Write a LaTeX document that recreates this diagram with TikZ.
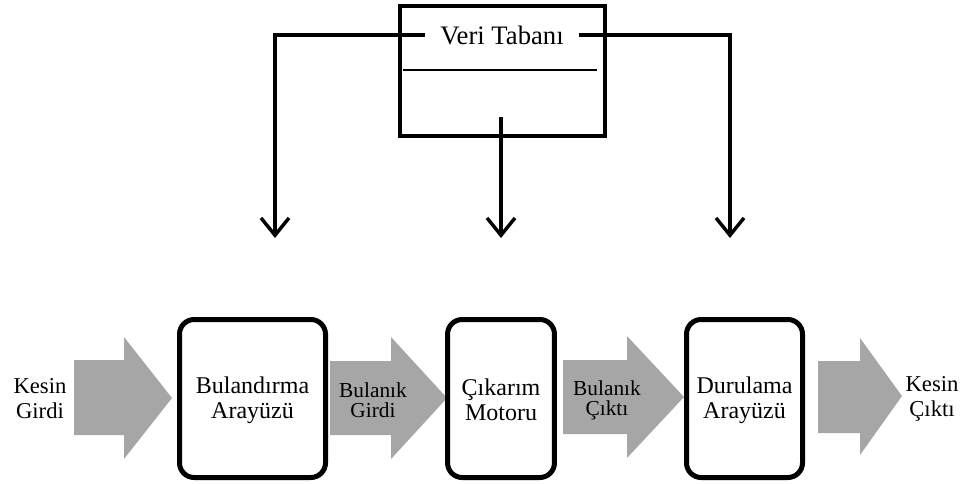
\documentclass[tikz,border=0pt]{standalone}
\usepackage{fontspec}
\setmainfont{Liberation Serif}
\usetikzlibrary{arrows.meta}
\definecolor{flowgray}{RGB}{166,166,166}
\tikzset{
  unitbox/.style={draw=black, line width=3.75pt, rounded corners=11pt, fill=white,
    minimum height=118.5pt, align=center, inner sep=0pt,
    font=\fontsize{18}{18.75}\selectfont},
  dbbox/.style={draw=black, line width=3.6pt, minimum width=153.75pt,
    minimum height=97.5pt, inner sep=0pt},
  dblabel/.style={inner xsep=11pt, inner ysep=2pt, font=\fontsize{20}{22}\selectfont},
  feed/.style={line width=2.6pt, -{Straight Barb[length=13pt, width=21pt, line width=2.6pt]}},
  flow/.style={fill=flowgray, draw=none},
  sidelabel/.style={align=center, inner sep=0pt, font=\fontsize{17}{18.75}\selectfont},
  flowlabel/.style={align=center, inner sep=0pt, font=\fontsize{16}{15}\selectfont},
}
\newcommand{\boxstrut}{\rule{0pt}{15pt}}
\begin{document}
\begin{tikzpicture}[x=0.75pt, y=-0.75pt]
\useasboundingbox (0,0) rectangle (970,483);

% knowledge base
\node[dbbox] (db) at (502.5,71) {};
\draw[line width=1.6pt] (403,70) -- (597,70);
\node[dblabel] (dbl) at (502,35) {Veri Tabanı};

% free ends of the feed arrows
\coordinate (fL) at (275,238);
\coordinate (fM) at (501,238);
\coordinate (fR) at (730,238);
\coordinate (dbstub) at (501,117);

\draw[feed] (dbl.west) -| (fL);
\draw[feed] (dbl.east) -| (fR);
\draw[feed] (dbstub) -- (fM);

% grey flow arrows
\fill[flow] (74,360) -- (124,360) -- (124,337) -- (172,398) -- (124,459) -- (124,435) -- (74,435) -- cycle;
\fill[flow] (330,361) -- (391,361) -- (391,337) -- (447,398) -- (391,459) -- (391,435) -- (330,435) -- cycle;
\fill[flow] (563,360) -- (627,360) -- (627,336) -- (684,397) -- (627,458) -- (627,434) -- (563,434) -- cycle;
\fill[flow] (818,361) -- (860,361) -- (860,338) -- (902,396) -- (860,455) -- (860,433) -- (818,433) -- cycle;

% processing units
\node[unitbox, minimum width=109.5pt] (fuzz) at (252.5,398.5) {\boxstrut Bulandırma\\Arayüzü};
\node[unitbox, minimum width=80.2pt] (inf) at (501,398.5) {\boxstrut Çıkarım\\Motoru};
\node[unitbox, minimum width=87pt] (defuzz) at (744.5,398.5) {\boxstrut Durulama\\Arayüzü};

% labels
\node[sidelabel] (cin) at (40,399) {Kesin\\Girdi};
\node[flowlabel] (fin) at (373,400) {Bulanık\\Girdi};
\node[flowlabel] (fout) at (607,400) {Bulanık\\Çıktı};
\node[sidelabel] (cout) at (932,399) {Kesin\\Çıktı};
\end{tikzpicture}
\end{document}
